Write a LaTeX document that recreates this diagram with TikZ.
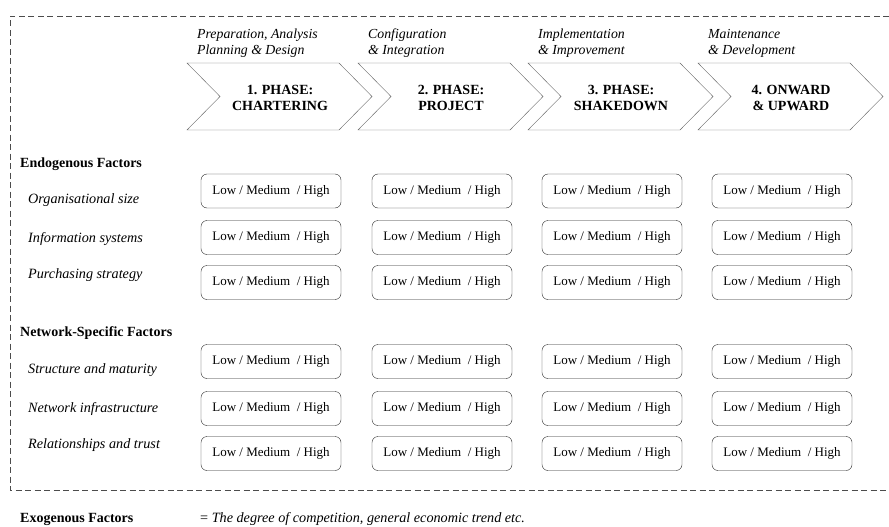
\documentclass[tikz,border=0pt]{standalone}
\usepackage{fontspec}
\setmainfont{Liberation Serif}
\usetikzlibrary{positioning}

\tikzset{
    phase/.style = {draw=black!60, fill=white},
    phasetext/.style = {font=\fontsize{14}{16}\selectfont\bfseries, align=center, inner sep=0},
    tasktext/.style = {font=\fontsize{13.8}{16}\selectfont\itshape, align=left, anchor=west, inner sep=0},
    level/.style = {draw=black!85, rounded corners=6pt, minimum width=140pt, minimum height=34pt,
                    font=\fontsize{13}{16}\selectfont, inner sep=0},
    factor/.style = {font=\fontsize{14.2}{16}\selectfont\itshape, anchor=base west, inner sep=0},
    group/.style = {font=\fontsize{14}{16}\selectfont\bfseries, anchor=base west, inner sep=0},
    frame/.style = {draw=black!70, dash pattern=on 6pt off 3.5pt}
}

\begin{document}
\begin{tikzpicture}[x=1pt, y=-1pt]

    \useasboundingbox (0,0) rectangle (889,527);

    % dashed frame, open to the right
    \draw[frame] (889,16) coordinate (ftr) -- (10,16) coordinate (ftl) -- (10,490) coordinate (fbl) -- (889,490) coordinate (fbr);

    % phases
    \foreach \i/\xx/\ta/\tb/\na/\nb in {
        1/187/{Preparation, Analysis}/{Planning \& Design}/{1. PHASE:}/{CHARTERING},
        2/358/{Configuration}/{\& Integration}/{2. PHASE:}/{PROJECT},
        3/528/{Implementation}/{\& Improvement}/{3. PHASE:}/{SHAKEDOWN},
        4/698/{Maintenance}/{\& Development}/{4. ONWARD}/{\& UPWARD}}
    {
        \draw[phase] (\xx,63) -- ++(152,0) -- ++(33,33.5) -- ++(-33,33.5) -- ++(-152,0) -- ++(33,-33.5) -- cycle;
        \node[phasetext] (phase\i) at (\xx+93,97.5) {\na\\\nb};
        \node[tasktext] (task\i) at (\xx+10,43) {\ta\\\tb};
    }

    % factor groups
    \node[group] (endo) at (20,167) {Endogenous Factors};
    \node[factor] (orgsize) at (28,203) {Organisational size};
    \node[factor] (infosys) at (28,242) {Information systems};
    \node[factor] (purchase) at (28,278) {Purchasing strategy};

    \node[group] (netspec) at (20,336) {Network-Specific Factors};
    \node[factor] (struct) at (28,373) {Structure and maturity};
    \node[factor] (infra) at (28,412) {Network infrastructure};
    \node[factor] (trust) at (28,448) {Relationships and trust};

    % level boxes
    \foreach \row/\yy in {a/191, b/237.5, c/282.5, d/361.5, e/408.5, f/453.5}
        \foreach \col/\xx in {1/271, 2/442, 3/612, 4/782}
            \node[level] (\row\col) at (\xx,\yy) {Low / Medium~ / High};

    % exogenous
    \node[group] (exo) at (20,522) {Exogenous Factors};
    \node[factor] (exotext) at (200,522) {\upshape= \itshape The degree of competition, general economic trend etc.};

\end{tikzpicture}
\end{document}
